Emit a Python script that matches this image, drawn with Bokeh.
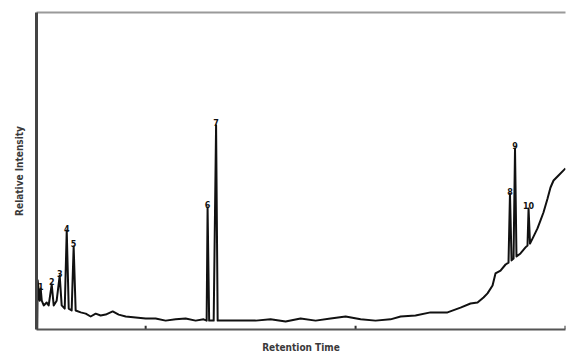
from bokeh.plotting import figure
from bokeh.models import Range1d, LinearAxis, FixedTicker, ColumnDataSource
from bokeh.embed import file_html
from bokeh.resources import INLINE
from bokeh.core.properties import value

# Chromatogram trace: retention time (arbitrary units) and relative intensity (%)
retention_time = [
    -0.33, -0.29, -0.19, -0.10, 0.00, 0.10, 0.29, 0.57, 0.76, 1.05, 1.24, 1.52,
    1.81, 2.00, 2.29, 2.48, 2.67, 2.95, 3.14, 3.33, 3.81, 4.29, 4.76, 5.24,
    5.71, 6.19, 6.86, 7.43, 8.10, 9.05, 10.00, 10.95, 11.90, 12.86, 13.81, 14.76,
    15.52, 15.81, 15.90, 16.05, 16.48, 16.71, 16.86, 17.62, 19.05, 20.48, 21.90, 23.33,
    24.76, 26.19, 27.62, 29.05, 30.48, 31.90, 33.33, 34.29, 35.71, 37.14, 38.76, 40.00,
    40.95, 41.62, 42.19, 42.57, 43.05, 43.33, 43.81, 44.29, 44.57, 44.71, 44.86, 45.05,
    45.19, 45.33, 45.71, 46.19, 46.38, 46.48, 46.62, 46.95, 47.33, 47.62, 47.90, 48.29,
    48.57, 48.86, 49.33, 49.81, 50.00,
]
intensity = [
    0.0, 15.5, 12.3, 9.1, 12.9, 9.1, 7.6, 8.5, 7.6, 14.2, 7.6, 9.1,
    17.0, 7.6, 6.6, 31.2, 6.6, 6.0, 26.2, 6.0, 5.4, 5.0, 4.1, 5.0,
    4.4, 4.7, 5.7, 4.7, 4.1, 3.8, 3.5, 3.5, 2.8, 3.2, 3.5, 2.8,
    3.2, 2.8, 38.5, 2.8, 2.8, 64.4, 2.8, 2.8, 2.8, 2.8, 3.2, 2.5,
    3.5, 2.8, 3.5, 4.1, 3.2, 2.8, 3.2, 4.1, 4.4, 5.4, 5.4, 6.9,
    8.2, 8.5, 10.1, 11.4, 13.9, 17.7, 18.6, 20.5, 21.1, 42.9, 21.8, 22.4,
    57.1, 23.0, 24.0, 25.9, 26.5, 38.2, 27.1, 29.3, 31.9, 34.4, 36.9, 41.3,
    44.8, 47.0, 48.6, 50.2, 50.8,
]

# Numbered peaks
peak_labels = ["1", "2", "3", "4", "5", "6", "7", "8", "9", "10"]
peak_time = [0.00, 1.05, 1.81, 2.48, 3.14, 15.90, 16.71, 44.71, 45.19, 46.48]
peak_height = [12.9, 14.2, 17.0, 31.2, 26.2, 38.5, 64.4, 42.9, 57.1, 38.2]

# Unlabelled x-axis tick positions
x_ticks = [10, 30, 50]

p = figure(
    width=568, height=356,
    output_backend="svg", toolbar_location=None,
    x_range=Range1d(-0.4, 50), y_range=Range1d(0, 100),
    min_border_left=36, min_border_right=3, min_border_top=12, min_border_bottom=27,
    x_axis_label="Retention Time", y_axis_label="Relative Intensity",
)
p.outline_line_color = None
p.xgrid.visible = False
p.ygrid.visible = False
p.background_fill_color = "white"
p.border_fill_color = "white"

label_font = "DejaVu Sans Condensed, Liberation Sans Narrow, DejaVu Sans, sans-serif"

for ax in (p.xaxis[0], p.yaxis[0]):
    ax.ticker = FixedTicker(ticks=[])
    ax.axis_line_color = "#555555"
    ax.axis_line_width = 2
    ax.major_tick_in = 0
    ax.major_tick_out = 0
    ax.minor_tick_in = 0
    ax.minor_tick_out = 0
    ax.major_label_standoff = 0
    ax.axis_label_text_font = label_font
    ax.axis_label_text_font_size = "10px"
    ax.axis_label_text_font_style = "bold"
    ax.axis_label_text_color = "#3a3a3a"
    ax.axis_label_standoff = 12

p.yaxis[0].axis_line_width = 3
p.yaxis[0].axis_line_color = "#444444"

top = LinearAxis(ticker=FixedTicker(ticks=[]),
                 major_tick_in=0, major_tick_out=0, minor_tick_in=0, minor_tick_out=0,
                 major_label_standoff=0, axis_line_color="#9a9a9a", axis_line_width=2)
p.add_layout(top, "above")

# small inward tick marks on the bottom axis
p.segment(x0=x_ticks, y0=[0] * len(x_ticks), x1=x_ticks, y1=[1.2] * len(x_ticks),
          line_color="#333333", line_width=2)

p.line(retention_time, intensity, line_color="#111111", line_width=2, line_join="round")

src = ColumnDataSource(dict(x=peak_time, y=peak_height, t=peak_labels))
p.text(x="x", y="y", text="t", source=src, text_align="center", text_baseline="bottom",
       text_font=value("DejaVu Sans"), text_font_style="bold", text_font_size="8px",
       text_color="#111111", y_offset=1)

open("out.html", "w").write(file_html(p, INLINE))
